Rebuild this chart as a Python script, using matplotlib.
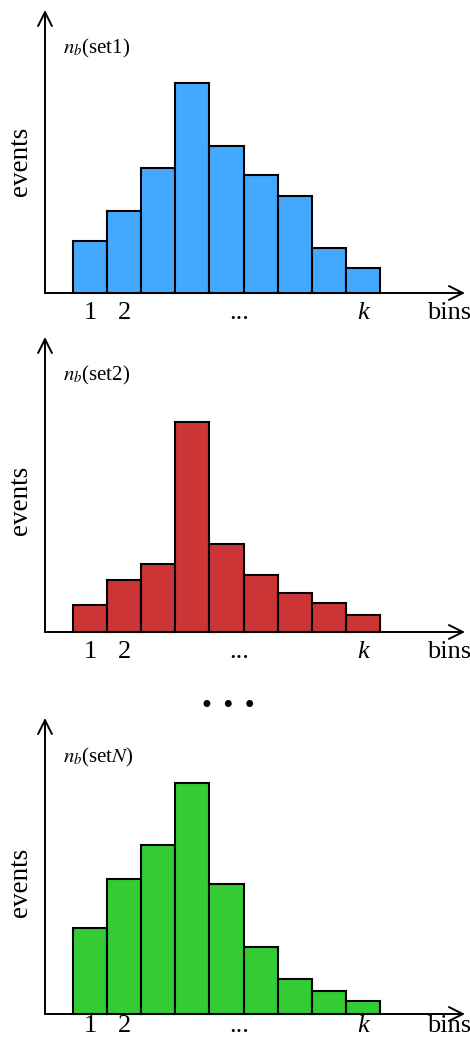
import numpy as np
import matplotlib
matplotlib.use("Agg")
import matplotlib.pyplot as plt

plt.rcParams['font.family'] = ['Liberation Serif', 'DejaVu Serif']
plt.rcParams['mathtext.fontset'] = 'stix'

# bin heights (arbitrary event counts)
set1 = [52, 82, 125, 210, 147, 118, 97, 45, 25]
set2 = [27, 52, 68, 210, 88, 57, 39, 29, 17]
setN = [86, 135, 169, 231, 130, 67, 35, 23, 13]

panel_labels = [r'$n_b$(set1)', r'$n_b$(set2)', r'$n_b$(set$N$)']
colors = ['#42A9FF', '#CC3535', '#33CC33']
tick_pos = [1, 2, 5.37, 9]
tick_text = ['1', '2', '...', 'k']

W, H = 470, 1048
fig = plt.figure(figsize=(W / 100, H / 100), dpi=100)

# pixel layout of each panel: (top, bottom, baseline, y-arrow top, label baseline, tick baseline)
panels = [
    (0, 330, 293, 10, 53, 319),
    (330, 680, 632, 337, 380, 658),
    (680, 1048, 1014, 718, 762, 1032),
]

bin_w = 34.1      # px per bin
x0 = 73           # px, left edge of first bar
xlim = ((0 - x0) / bin_w + 0.5, (W - x0) / bin_w + 0.5)
yaxis_x = (45 - x0) / bin_w + 0.5
xtip = (465 - x0) / bin_w + 0.5
bins_x = (427 - x0) / bin_w + 0.5
label_x = (63 - x0) / bin_w + 0.5
events_x = (21 - x0) / bin_w + 0.5

for i, (vals, col, lab) in enumerate(zip([set1, set2, setN], colors, panel_labels)):
    top, bot, base, ytop, lab_y, tick_y = panels[i]
    ax = fig.add_axes([0, 1 - bot / H, 1, (bot - top) / H])
    ax.set_xlim(*xlim)
    ax.set_ylim(-(bot - base), base - top)
    ax.axis('off')

    x = np.arange(1, len(vals) + 1)
    ax.bar(x, vals, width=1.0, color=col, edgecolor='black', linewidth=1.5, zorder=2)

    arrow = dict(arrowstyle='->,head_length=0.5,head_width=0.25', lw=1.4,
                 color='black', mutation_scale=20, shrinkA=0, shrinkB=0)
    ax.annotate('', xy=(xtip, 0), xytext=(yaxis_x, 0), arrowprops=arrow,
                annotation_clip=False, zorder=3)
    ax.annotate('', xy=(yaxis_x, base - ytop), xytext=(yaxis_x, 0), arrowprops=arrow,
                annotation_clip=False, zorder=3)

    ax.text(label_x, base - lab_y, lab, fontsize=15, ha='left', va='baseline')
    ax.text(events_x, 132, 'events', fontsize=19.5, rotation=90, ha='center', va='center')

    ty = base - tick_y
    for p, t in zip(tick_pos, tick_text):
        ax.text(p, ty, t, fontsize=19, ha='center', va='baseline',
                style='italic' if t == 'k' else 'normal')
    ax.text(bins_x, ty, 'bins', fontsize=19, ha='left', va='baseline')

    if i == 2:
        ax.text((228 - x0) / bin_w + 0.5, base - 706, '\u2022 \u2022 \u2022',
                fontsize=17, ha='center', va='center', family='DejaVu Sans')

fig.savefig('out.png', dpi=100)
